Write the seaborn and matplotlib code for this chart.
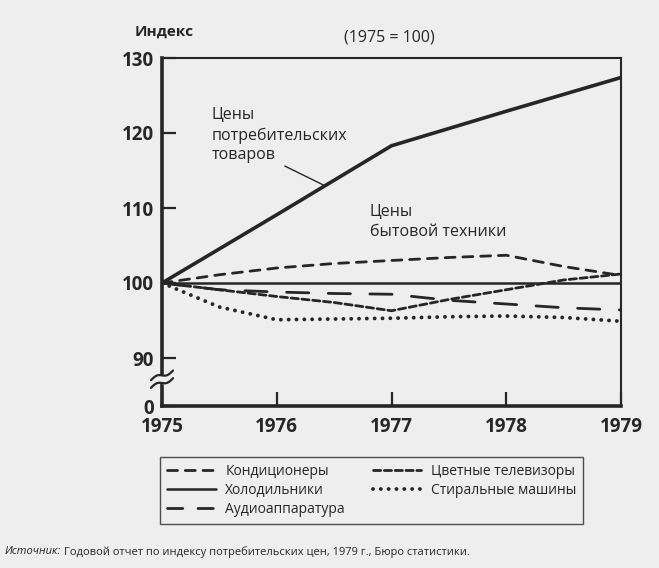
import numpy as np
import pandas as pd
import seaborn as sns
import matplotlib.pyplot as plt
from matplotlib.lines import Line2D

# ── Data (index 1975 = 100) ─────────────────────────────────────────────────
CPI_YEARS   = [1975, 1976, 1977, 1978, 1979]
CPI_VALUES  = [100.0, 109.1, 118.3, 122.9, 127.4]

YEARS       = [1975, 1975.5, 1976, 1976.5, 1977, 1977.5, 1978, 1978.5, 1979]
AIRCON      = [100.0, 101.1, 102.0, 102.6, 103.0, 103.4, 103.7, 102.2, 101.0]
COLOR_TV    = [100.0, 99.1, 98.2, 97.4, 96.3, 97.8, 99.1, 100.4, 101.2]
FRIDGES     = [100.0, 100.0, 100.0, 100.0, 100.0, 100.0, 100.0, 100.0, 100.0]
AUDIO       = [100.0, 99.1, 98.8, 98.6, 98.5, 97.7, 97.2, 96.7, 96.4]
WASHERS     = [100.0, 96.8, 95.1, 95.2, 95.3, 95.5, 95.6, 95.4, 94.9]

SERIES = ['Кондиционеры', 'Холодильники', 'Аудиоаппаратура',
          'Цветные телевизоры', 'Стиральные машины']
X_TICKS   = [1975, 1976, 1977, 1978, 1979]
Y_TICKS   = [83.6, 90, 100, 110, 120, 130]
Y_LABELS  = ['0', '90', '100', '110', '120', '130']

# ── Style ───────────────────────────────────────────────────────────────────
BG    = '#eeeeee'
INK   = '#262626'
LW    = 2.0
WIDTHS = {
    'Кондиционеры': 2.0, 'Холодильники': 1.8, 'Аудиоаппаратура': 2.0,
    'Цветные телевизоры': 2.0, 'Стиральные машины': 2.8,
}
DASHES = {
    'Кондиционеры':       (3.6, 2.8),
    'Холодильники':       '',
    'Аудиоаппаратура':    (8.0, 7.0),
    'Цветные телевизоры': (2.6, 1.3),
    'Стиральные машины':  (0.01, 2.0),
}
# the legend swatches are short, so audio gets a shorter pattern there
LEGEND_DASHES = dict(DASHES, **{'Аудиоаппаратура': (5.5, 5.5)})

sns.set_style('white', {'xtick.bottom': True, 'ytick.left': True})
plt.rcParams['font.family'] = ['Open Sans', 'Noto Sans', 'DejaVu Sans']
plt.rcParams['text.color'] = INK
plt.rcParams['xtick.direction'] = 'in'
plt.rcParams['ytick.direction'] = 'in'

df = pd.concat([
    pd.DataFrame({'year': YEARS, 'index': vals, 'series': name})
    for name, vals in zip(SERIES, [AIRCON, FRIDGES, AUDIO, COLOR_TV, WASHERS])
], ignore_index=True)
cpi = pd.DataFrame({'year': CPI_YEARS, 'index': CPI_VALUES})

fig = plt.figure(figsize=(6.59, 5.68), dpi=100, facecolor=BG)
ax = fig.add_axes([162 / 659, 1 - 406 / 568, 459 / 659, 348 / 568])
ax.set_facecolor(BG)

sns.lineplot(data=df, x='year', y='index', hue='series', style='series',
             hue_order=SERIES, style_order=SERIES,
             palette=[INK] * len(SERIES), dashes=DASHES,
             linewidth=LW, legend=False, ax=ax)
sns.lineplot(data=cpi, x='year', y='index', color=INK, linewidth=2.6, ax=ax)

# per-series widths, round caps so the washing-machine line reads as dots
for line, name in zip(ax.lines, SERIES):
    line.set_linewidth(WIDTHS[name])
for line in ax.lines:
    line.set_dash_capstyle('round')

ax.set_xlim(1975, 1979)
ax.set_ylim(83.6, 130)
ax.set_xticks(X_TICKS)
ax.set_xticklabels([str(y) for y in X_TICKS], fontweight='bold')
ax.set_yticks(Y_TICKS)
ax.set_yticklabels(Y_LABELS, fontweight='bold')
ax.set_xlabel('')
ax.set_ylabel('')
ax.tick_params(direction='in', length=10, width=1.6, color=INK,
               labelsize=13.5, labelcolor=INK)
ax.tick_params(axis='y', pad=6)
ax.tick_params(axis='x', pad=8)
for side in ['left', 'bottom']:
    ax.spines[side].set_linewidth(2.6)
    ax.spines[side].set_color(INK)
for side in ['top', 'right']:
    ax.spines[side].set_linewidth(1.5)
    ax.spines[side].set_color(INK)

# axis break marks on the y axis
t = np.linspace(0, 1, 40)
wx = -0.024 + 0.048 * t
wave = 0.006 * np.sin(2 * np.pi * t) + 0.028 * t
ax.fill_between(wx, 0.052 + wave, 0.074 + wave, color=BG,
                transform=ax.transAxes, clip_on=False, zorder=5)
for y0 in (0.052, 0.074):
    ax.plot(wx, y0 + wave, color=INK, lw=1.6, transform=ax.transAxes,
            clip_on=False, zorder=6)

# annotations
ax.text(1975.43, 123.4, 'Цены\nпотребительских\nтоваров', fontsize=11.5,
        va='top', ha='left', linespacing=1.3)
ax.annotate('', xy=(1976.42, np.interp(1976.42, CPI_YEARS, CPI_VALUES)),
            xytext=(1976.07, 115.6),
            arrowprops=dict(arrowstyle='-', color=INK, lw=1.0,
                            shrinkA=0, shrinkB=0))
ax.text(1976.81, 110.5, 'Цены\nбытовой техники', fontsize=11.5,
        va='top', ha='left', linespacing=1.3)

fig.text(135 / 659, 1 - 32 / 568, 'Индекс', fontsize=11, fontweight='bold',
         ha='left', va='center')
fig.text(389 / 659, 1 - 38 / 568, '(1975 = 100)', fontsize=11.5,
         ha='center', va='center')

# legend
handles = [Line2D([], [], color=INK, lw=WIDTHS[s], dash_capstyle='round',
                  **({'dashes': LEGEND_DASHES[s]} if LEGEND_DASHES[s] else {}))
           for s in SERIES]
leg = fig.legend(handles, SERIES, ncol=2, loc='upper left',
                 bbox_to_anchor=(160 / 659, 1 - 457 / 568),
                 frameon=True, fancybox=False, fontsize=10,
                 handlelength=3.5, handletextpad=0.7, columnspacing=2.0,
                 labelspacing=0.3, borderpad=0.5, borderaxespad=0)
leg.get_frame().set_edgecolor(INK)
leg.get_frame().set_linewidth(1.0)
leg.get_frame().set_facecolor(BG)

# source line: italic label followed by regular text
src = fig.text(5 / 659, 1 - 552 / 568, 'Источник:', fontsize=8,
               style='italic', ha='left', va='center')
fig.canvas.draw()
bb = src.get_window_extent().transformed(fig.transFigure.inverted())
fig.text(bb.x1 + 0.004, 1 - 552 / 568,
         'Годовой отчет по индексу потребительских цен, 1979 г., Бюро статистики.',
         fontsize=8, ha='left', va='center')

fig.savefig('out.png', dpi=100, facecolor=BG)
